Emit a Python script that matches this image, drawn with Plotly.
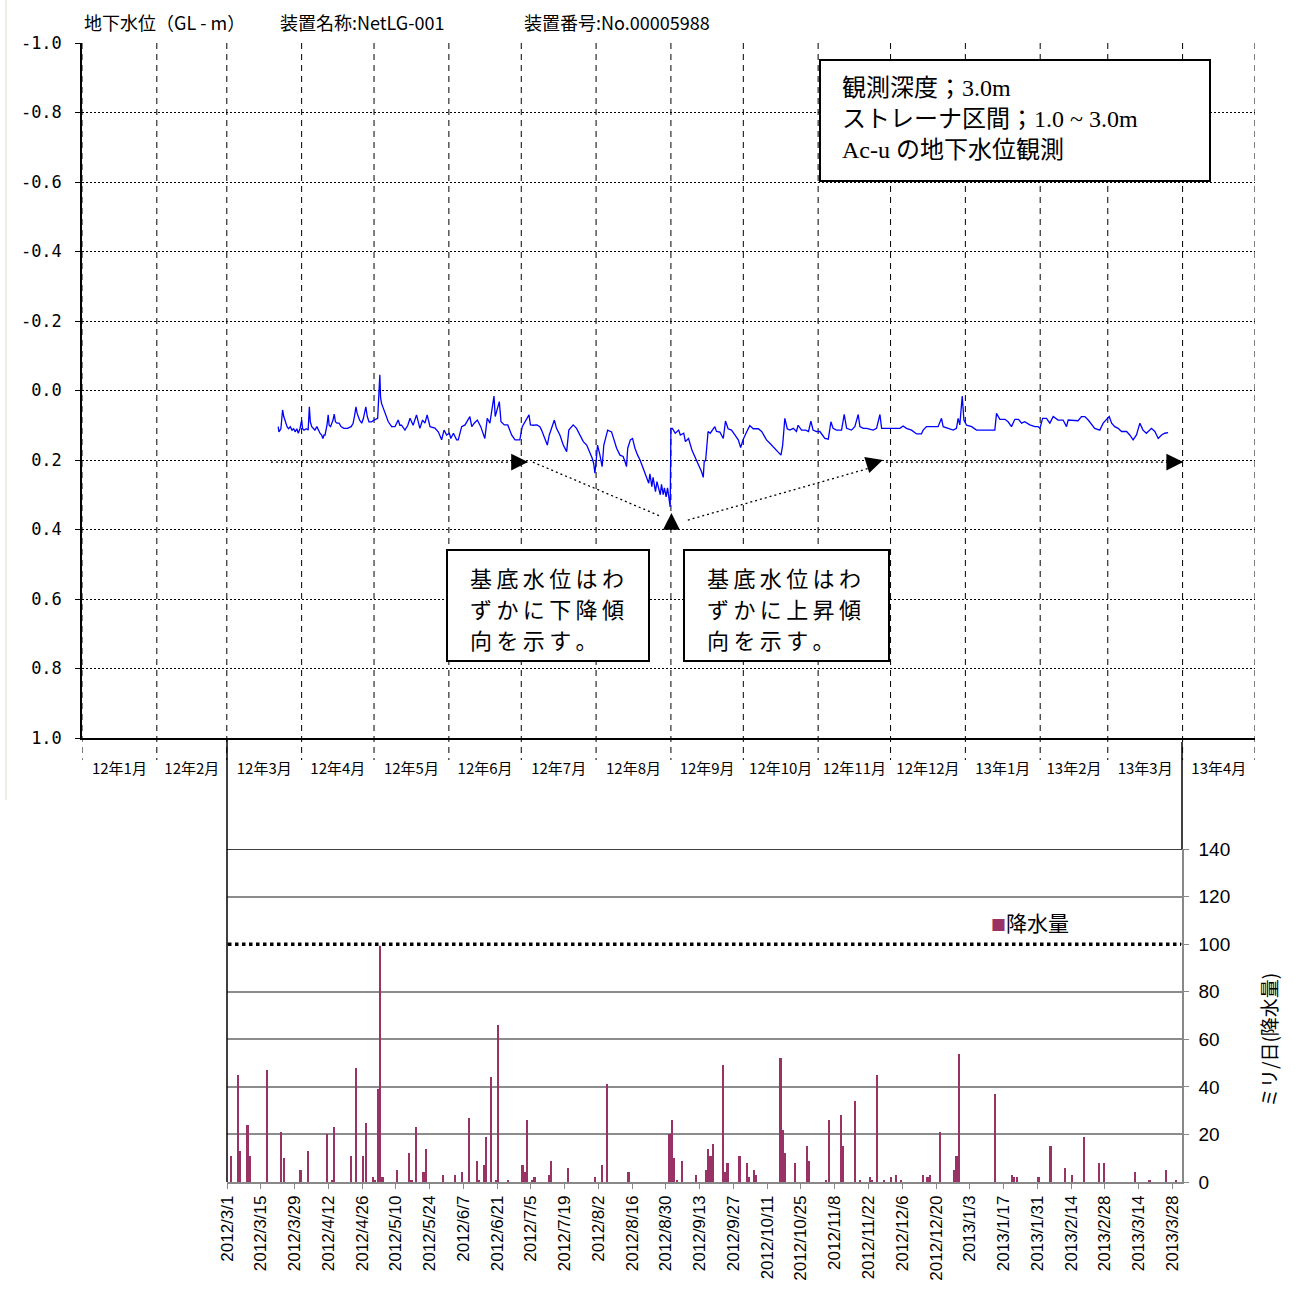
import pandas as pd
import plotly.graph_objects as go

W = H = 1295

# ---- groundwater level (GL - m); observation time as days elapsed since 2012-01-01
gw_day = [
    81.3, 81.6, 82.4, 83.1, 83.6, 84.1, 85.0, 85.6, 86.3, 87.0, 87.7, 88.3, 89.0, 89.6, 90.3,
    91.0, 91.4, 92.0, 93.0, 93.7, 94.2, 94.6, 95.2, 96.0, 96.5, 97.3, 98.0, 98.6, 99.3, 99.8,
    100.3, 100.7, 101.5, 102.0, 102.4, 103.0, 104.0, 104.5, 105.0, 105.6, 106.5, 107.3, 108.5,
    110.0, 111.5, 112.3, 113.0, 113.5, 114.0, 115.0, 115.9, 116.6, 117.6, 118.2, 118.9, 120.0,
    121.0, 122.5, 123.4, 123.7, 124.1, 125.0, 125.5, 126.9, 128.3, 129.7, 131.0, 131.7, 132.4,
    133.8, 135.0, 135.9, 137.2, 138.6, 140.0, 141.1, 142.1, 143.0, 144.2, 146.2, 147.6, 149.0,
    150.0, 151.1, 152.2, 152.8, 153.9, 155.2, 155.9, 157.3, 158.7, 160.7, 161.5, 162.5, 163.8,
    165.2, 166.9, 167.9, 169.0, 170.7, 171.2, 172.9, 173.6, 175.0, 176.4, 178.0, 179.4, 180.5,
    181.4, 182.4, 182.8, 184.2, 185.2, 185.8, 187.0, 188.5, 189.7, 190.4, 191.8, 192.8, 193.6,
    195.7, 196.6, 198.0, 199.4, 200.8, 201.7, 203.5, 204.9, 206.3, 207.7, 209.1, 210.4, 211.4,
    212.0, 212.5, 213.0, 213.6, 214.6, 215.5, 216.2, 217.8, 219.4, 220.5, 221.5, 222.9, 224.2,
    225.0, 225.6, 226.1, 227.2, 228.1, 229.1, 230.2, 231.2, 232.5, 233.9, 234.8, 235.3, 236.1,
    236.6, 237.6, 238.2, 239.0, 239.6, 240.1, 240.8, 241.3, 242.0, 242.6, 243.2, 243.7, 244.0,
    244.6, 245.8, 247.2, 247.9, 249.3, 250.0, 251.3, 252.7, 254.0, 255.3, 256.7, 257.4, 257.8,
    258.4, 259.4, 260.3, 262.2, 262.9, 264.3, 265.7, 266.6, 267.7, 269.1, 270.5, 271.9, 272.9,
    273.9, 275.3, 276.7, 278.1, 280.2, 281.6, 283.6, 285.0, 286.4, 287.8, 289.6, 290.3, 291.2,
    292.2, 293.3, 294.7, 296.0, 296.7, 298.1, 299.9, 301.0, 302.0, 302.9, 304.3, 305.7, 307.8,
    309.2, 310.3, 311.2, 312.6, 314.7, 315.8, 316.8, 318.8, 320.2, 321.6, 322.3, 323.7, 325.1,
    327.8, 329.2, 330.6, 331.3, 333.3, 336.1, 338.9, 340.2, 341.6, 343.7, 345.8, 347.8, 348.5,
    349.9, 352.7, 354.7, 356.1, 356.8, 358.9, 361.0, 362.3, 363.0, 363.7, 364.7, 365.4, 366.5,
    368.6, 370.6, 372.7, 374.8, 376.8, 378.2, 378.9, 380.3, 382.4, 383.7, 385.1, 386.5, 388.0,
    389.3, 390.6, 392.0, 392.7, 394.8, 396.1, 396.9, 398.0, 399.6, 401.0, 402.4, 404.4, 406.5,
    407.9, 408.6, 410.6, 412.7, 414.1, 415.5, 416.9, 418.3, 419.6, 421.7, 423.1, 424.5, 425.6,
    426.6, 427.9, 429.3, 430.7, 432.8, 434.1, 435.5, 436.9, 438.3, 439.6, 441.0, 443.1, 444.5,
    445.9, 447.3, 448.6, 450.0,
]
gw_level = [
    0.104, 0.119, 0.110, 0.056, 0.075, 0.085, 0.105, 0.110, 0.104, 0.114, 0.110, 0.119, 0.110, 0.123, 0.110,
    0.085, 0.110, 0.114, 0.110, 0.114, 0.047, 0.090, 0.104, 0.110, 0.114, 0.104, 0.114, 0.123, 0.128, 0.138,
    0.128, 0.128, 0.100, 0.070, 0.100, 0.104, 0.085, 0.068, 0.090, 0.094, 0.094, 0.104, 0.109,
    0.109, 0.104, 0.095, 0.070, 0.047, 0.066, 0.085, 0.094, 0.080, 0.047, 0.075, 0.090, 0.090,
    0.085, 0.080, -0.045, 0.020, 0.037, 0.055, 0.066, 0.090, 0.104, 0.104, 0.085, 0.100, 0.100,
    0.114, 0.100, 0.080, 0.100, 0.070, 0.109, 0.085, 0.094, 0.070, 0.104, 0.108, 0.119, 0.142,
    0.114, 0.128, 0.123, 0.138, 0.123, 0.142, 0.142, 0.104, 0.099, 0.075, 0.104, 0.094, 0.085,
    0.104, 0.138, 0.080, 0.094, 0.016, 0.075, 0.032, 0.090, 0.099, 0.099, 0.128, 0.142, 0.142,
    0.142, 0.104, 0.099, 0.085, 0.070, 0.099, 0.100, 0.099, 0.104, 0.114, 0.138, 0.157, 0.128,
    0.085, 0.109, 0.128, 0.157, 0.176, 0.114, 0.099, 0.109, 0.128, 0.147, 0.157, 0.176, 0.195,
    0.210, 0.238, 0.205, 0.157, 0.186, 0.219, 0.157, 0.114, 0.119, 0.147, 0.166, 0.186, 0.190,
    0.205, 0.219, 0.166, 0.142, 0.138, 0.166, 0.186, 0.200, 0.224, 0.253, 0.267, 0.240, 0.277,
    0.250, 0.291, 0.262, 0.286, 0.300, 0.270, 0.300, 0.280, 0.306, 0.280, 0.310, 0.335, 0.109,
    0.109, 0.123, 0.114, 0.128, 0.123, 0.147, 0.138, 0.171, 0.190, 0.210, 0.234, 0.250, 0.205,
    0.200, 0.118, 0.123, 0.104, 0.118, 0.120, 0.138, 0.088, 0.110, 0.114, 0.128, 0.142, 0.164,
    0.142, 0.120, 0.101, 0.110, 0.110, 0.118, 0.142, 0.152, 0.162, 0.171, 0.186, 0.157, 0.080,
    0.110, 0.114, 0.109, 0.118, 0.100, 0.114, 0.114, 0.118, 0.088, 0.114, 0.118, 0.118, 0.138,
    0.140, 0.090, 0.109, 0.114, 0.114, 0.069, 0.109, 0.114, 0.104, 0.069, 0.104, 0.109, 0.109,
    0.114, 0.109, 0.069, 0.109, 0.109, 0.109, 0.109, 0.102, 0.109, 0.114, 0.125, 0.125, 0.114,
    0.104, 0.104, 0.104, 0.080, 0.104, 0.109, 0.114, 0.109, 0.080, 0.099, 0.016, 0.085, 0.100,
    0.104, 0.114, 0.114, 0.114, 0.114, 0.114, 0.066, 0.083, 0.083, 0.090, 0.104, 0.083, 0.083,
    0.094, 0.090, 0.095, 0.099, 0.104, 0.104, 0.109, 0.080, 0.080, 0.094, 0.075, 0.085, 0.085,
    0.104, 0.085, 0.085, 0.087, 0.075, 0.075, 0.085, 0.099, 0.109, 0.114, 0.094, 0.083, 0.075,
    0.094, 0.104, 0.109, 0.118, 0.118, 0.128, 0.142, 0.128, 0.094, 0.114, 0.123, 0.109, 0.118,
    0.138, 0.128, 0.123, 0.121,
]

# ---- daily precipitation (mm/day)
rain_date = [
    "2012-03-02", "2012-03-05", "2012-03-06", "2012-03-09", "2012-03-10", "2012-03-17",
    "2012-03-23", "2012-03-24", "2012-03-31", "2012-04-03", "2012-04-11", "2012-04-13",
    "2012-04-14", "2012-04-21", "2012-04-23", "2012-04-26", "2012-04-27", "2012-04-30",
    "2012-05-01", "2012-05-02", "2012-05-03", "2012-05-04", "2012-05-10", "2012-05-15",
    "2012-05-16", "2012-05-18", "2012-05-21", "2012-05-22", "2012-05-29", "2012-06-03",
    "2012-06-06", "2012-06-09", "2012-06-12", "2012-06-13", "2012-06-15", "2012-06-16",
    "2012-06-18", "2012-06-20", "2012-06-21", "2012-06-25", "2012-07-01", "2012-07-02",
    "2012-07-03", "2012-07-05", "2012-07-06", "2012-07-12", "2012-07-13", "2012-07-20",
    "2012-07-31", "2012-08-03", "2012-08-05", "2012-08-14", "2012-08-31", "2012-09-01",
    "2012-09-02", "2012-09-03", "2012-09-05", "2012-09-11", "2012-09-15", "2012-09-16",
    "2012-09-17", "2012-09-18", "2012-09-22", "2012-09-23", "2012-09-24", "2012-09-29",
    "2012-10-02", "2012-10-03", "2012-10-05", "2012-10-06", "2012-10-16", "2012-10-17",
    "2012-10-18", "2012-10-22", "2012-10-27", "2012-10-28", "2012-11-04", "2012-11-05",
    "2012-11-10", "2012-11-11", "2012-11-16", "2012-11-18", "2012-11-22", "2012-11-23",
    "2012-11-25", "2012-11-28", "2012-12-01", "2012-12-03", "2012-12-05", "2012-12-14",
    "2012-12-16", "2012-12-17", "2012-12-21", "2012-12-27", "2012-12-28", "2012-12-29",
    "2013-01-13", "2013-01-20", "2013-01-21", "2013-01-22", "2013-01-31", "2013-02-05",
    "2013-02-11", "2013-02-14", "2013-02-19", "2013-02-25", "2013-02-27", "2013-03-12",
    "2013-03-18", "2013-03-25", "2013-03-29",
]
rain_mm = [
    11, 45, 13, 24, 11, 47,
    21, 10, 5, 13, 20, 1,
    23, 11, 48, 11, 25, 2,
    1, 39, 100, 2, 5, 12,
    1, 23, 4, 14, 3, 3,
    4, 27, 9, 1, 7, 19,
    44, 1, 66, 1, 7, 4,
    26, 1, 2, 3, 9, 6,
    2, 7, 41, 4, 20, 26,
    10, 1, 9, 3, 5, 14,
    11, 16, 49, 4, 8, 11,
    8, 2, 5, 3, 52, 22,
    12, 8, 15, 9, 1, 26,
    28, 15, 34, 1, 2, 1,
    45, 1, 2, 3, 1, 3,
    2, 3, 21, 5, 11, 54,
    37, 3, 2, 2, 2, 15,
    6, 3, 19, 8, 8, 4,
    1, 5, 1,
]

# ---- axis ticks and labels
month_labels = ["12年1月", "12年2月", "12年3月", "12年4月", "12年5月", "12年6月", "12年7月",
                "12年8月", "12年9月", "12年10月", "12年11月", "12年12月", "13年1月", "13年2月",
                "13年3月", "13年4月"]
level_ticks = [-1.0, -0.8, -0.6, -0.4, -0.2, 0.0, 0.2, 0.4, 0.6, 0.8, 1.0]
level_labels = ["-1.0", "-0.8", "-0.6", "-0.4", "-0.2", "0.0", "0.2", "0.4", "0.6", "0.8", "1.0"]
rain_ticks = [0, 20, 40, 60, 80, 100, 120, 140]
rain_tick_labels = ["2012/3/1", "2012/3/15", "2012/3/29", "2012/4/12", "2012/4/26", "2012/5/10",
                    "2012/5/24", "2012/6/7", "2012/6/21", "2012/7/5", "2012/7/19", "2012/8/2",
                    "2012/8/16", "2012/8/30", "2012/9/13", "2012/9/27", "2012/10/11",
                    "2012/10/25", "2012/11/8", "2012/11/22", "2012/12/6", "2012/12/20",
                    "2013/1/3", "2013/1/17", "2013/1/31", "2013/2/14", "2013/2/28",
                    "2013/3/14", "2013/3/28"]

# ---- baseline trend guides (dotted segments and arrow tips)
trend_segments = [
    (("2012-03-19 07:00", 0.206), ("2012-07-03 12:00", 0.206)),
    (("2012-07-05 19:00", 0.206), ("2012-08-27 10:00", 0.361)),
    (("2012-09-08 00:00", 0.373), ("2012-11-22 10:00", 0.223)),
    (("2012-11-29 02:00", 0.206), ("2013-03-31 18:00", 0.206)),
]
# tip position, tail offset in pixels
trend_tips = [
    ("2012-07-03 19:00", 0.206, -17, 0),
    ("2012-09-01 05:00", 0.3525, 0, 17),
    ("2012-11-27 19:00", 0.200, -16, 5),
    ("2013-04-01 06:00", 0.206, -17, 0),
]

start = pd.Timestamp("2012-01-01")
gw_time = start + pd.to_timedelta(gw_day, unit="D")
rain_x = pd.to_datetime(rain_date) + pd.Timedelta(hours=12)
rain_tick_vals = pd.to_datetime(rain_tick_labels, format="%Y/%m/%d")
month_starts = pd.date_range("2012-01-01", "2013-05-01", freq="MS")
month_mid = month_starts[:-1] + (month_starts[1:] - month_starts[:-1]) / 2


def px(x):
    return x / W


def py(y):
    return 1 - y / H


JP = "Noto Sans CJK JP"
fig = go.Figure()

fig.add_trace(go.Scatter(x=gw_time, y=gw_level, mode="lines",
                         line=dict(color="#0000ff", width=1.3),
                         xaxis="x", yaxis="y", hoverinfo="skip"))

for (p0, p1) in trend_segments:
    fig.add_trace(go.Scatter(x=[p0[0], p1[0]], y=[p0[1], p1[1]], mode="lines",
                             line=dict(color="black", width=1.3, dash="2px,3px"),
                             xaxis="x", yaxis="y", hoverinfo="skip"))

fig.add_trace(go.Bar(x=rain_x, y=rain_mm, width=0.9 * 86400000,
                     marker=dict(color="#993366", line=dict(width=0)),
                     xaxis="x2", yaxis="y2", hoverinfo="skip"))

shapes = []
# monthly dashed grid, extended a little below the axis as tick marks
for s in month_starts:
    shapes.append(dict(type="line", xref="x", yref="paper", x0=s, x1=s,
                       y0=py(43), y1=py(760), layer="below",
                       line=dict(color="black", width=1, dash="6px,5px")))
# precipitation panel frame
shapes += [
    dict(type="line", xref="paper", yref="paper", x0=px(227), x1=px(227), y0=py(738), y1=py(1182),
         line=dict(color="black", width=1.5)),
    dict(type="line", xref="paper", yref="paper", x0=px(1182), x1=px(1182), y0=py(742), y1=py(849),
         line=dict(color="black", width=1.5)),
    dict(type="line", xref="paper", yref="y2", x0=px(227), x1=px(1182), y0=140, y1=140,
         line=dict(color="black", width=1.5)),
    dict(type="line", xref="paper", yref="y2", x0=px(228), x1=px(1181), y0=100, y1=100,
         line=dict(color="white", width=3)),
    dict(type="line", xref="paper", yref="y2", x0=px(228), x1=px(1181), y0=100, y1=100,
         line=dict(color="black", width=3.5, dash="dot")),
    dict(type="line", xref="paper", yref="paper", x0=px(6), x1=px(6), y0=py(0), y1=py(800),
         line=dict(color="#ebe8d6", width=1.5)),
]
# text boxes
for (x0, y0, x1, y1) in [(820, 60, 1210, 181), (447, 550, 649, 661), (684, 550, 889, 661)]:
    shapes.append(dict(type="rect", xref="paper", yref="paper", x0=px(x0), x1=px(x1),
                       y0=py(y1), y1=py(y0), fillcolor="white",
                       line=dict(color="black", width=2), layer="above"))

annotations = []
for (x, txt) in [(82, "地下水位（GL - m）"), (278, "装置名称:NetLG-001"), (522, "装置番号:No.00005988")]:
    annotations.append(dict(xref="paper", yref="paper", x=px(x), y=py(22), xanchor="left",
                            yanchor="middle", text=txt, showarrow=False,
                            font=dict(family=JP, size=18, color="black")))


def text_line(x, y, txt, family, size):
    return dict(xref="paper", yref="paper", x=px(x), y=py(y), xanchor="left",
                yanchor="middle", align="left", showarrow=False, text=txt,
                font=dict(family=family, size=size, color="black"))


info_lines = ["観測深度；3.0m", "ストレーナ区間；1.0 ~ 3.0m", "Ac-u の地下水位観測"]
for y, txt in zip([88, 119, 150], info_lines):
    annotations.append(text_line(840, y, txt, "Liberation Serif, " + JP, 24))

ts = "\u2009"
for (x, lines) in [(468, ["基底水位はわ", "ずかに下降傾", "向を示す。"]),
                   (705, ["基底水位はわ", "ずかに上昇傾", "向を示す。"])]:
    for y, l in zip([577, 608, 639], lines):
        annotations.append(text_line(x, y, ts.join(list(l)), JP, 22))

for (tx, ty, ax, ay) in trend_tips:
    annotations.append(dict(xref="x", yref="y", x=tx, y=ty, ax=ax, ay=ay, text="",
                            showarrow=True, arrowhead=2, arrowsize=2.8, arrowwidth=1.2,
                            arrowcolor="black"))

annotations.append(dict(xref="paper", yref="paper", x=px(989), y=py(922), xanchor="left",
                        yanchor="middle", showarrow=False,
                        text="<span style='color:#993366;font-size:15px'>■</span>降水量",
                        font=dict(family=JP, size=21, color="black")))
annotations.append(dict(xref="paper", yref="paper", x=px(1268), y=py(1040), xanchor="center",
                        yanchor="middle", showarrow=False, textangle=-90,
                        text="ミリ/日(降水量)", font=dict(family=JP, size=19, color="black")))

fig.update_layout(
    width=W, height=H, margin=dict(l=0, r=0, t=0, b=0, autoexpand=False),
    paper_bgcolor="white", plot_bgcolor="rgba(0,0,0,0)", showlegend=False,
    xaxis=dict(domain=[px(82), px(1255)], type="date", range=["2012-01-01", "2013-05-01"],
               tickmode="array", tickvals=month_mid, ticktext=month_labels, ticks="",
               showgrid=False, zeroline=False, showline=True, linecolor="black", linewidth=1.5,
               tickfont=dict(family=JP, size=15, color="black"), ticklabelstandoff=16,
               anchor="y", automargin=False),
    yaxis=dict(domain=[py(738), py(43)], range=[1.0, -1.0], tickmode="array",
               tickvals=level_ticks, ticktext=level_labels, ticks="outside", ticklen=5,
               tickcolor="black", showline=True, linecolor="black", linewidth=1.5,
               showgrid=True, gridcolor="black", griddash="2px,2px", gridwidth=1,
               zeroline=False, tickfont=dict(family="DejaVu Sans Mono", size=17, color="black"),
               ticklabelstandoff=10, anchor="x", automargin=False),
    xaxis2=dict(domain=[px(227), px(1182)], type="date", range=["2012-03-01", "2013-04-01"],
                tickmode="array", tickvals=rain_tick_vals, ticktext=rain_tick_labels,
                tickangle=-90, ticks="outside", ticklen=5, tickcolor="#888",
                showline=True, linecolor="#888", linewidth=1.5, showgrid=False,
                zeroline=False, tickfont=dict(family="Liberation Sans", size=17, color="black"),
                anchor="y2", automargin=False),
    yaxis2=dict(domain=[py(1182), py(849)], range=[0, 140], side="right", anchor="x2",
                tickmode="array", tickvals=rain_ticks, ticks="outside", ticklen=5,
                tickcolor="#888", showline=True, linecolor="#888", linewidth=1.5,
                showgrid=True, gridcolor="#8c8c8c", gridwidth=1.5, zeroline=False,
                tickfont=dict(family="Liberation Sans", size=19, color="black"),
                ticklabelstandoff=6, automargin=False),
    shapes=shapes, annotations=annotations, bargap=0,
)

fig.write_html("out.html")
